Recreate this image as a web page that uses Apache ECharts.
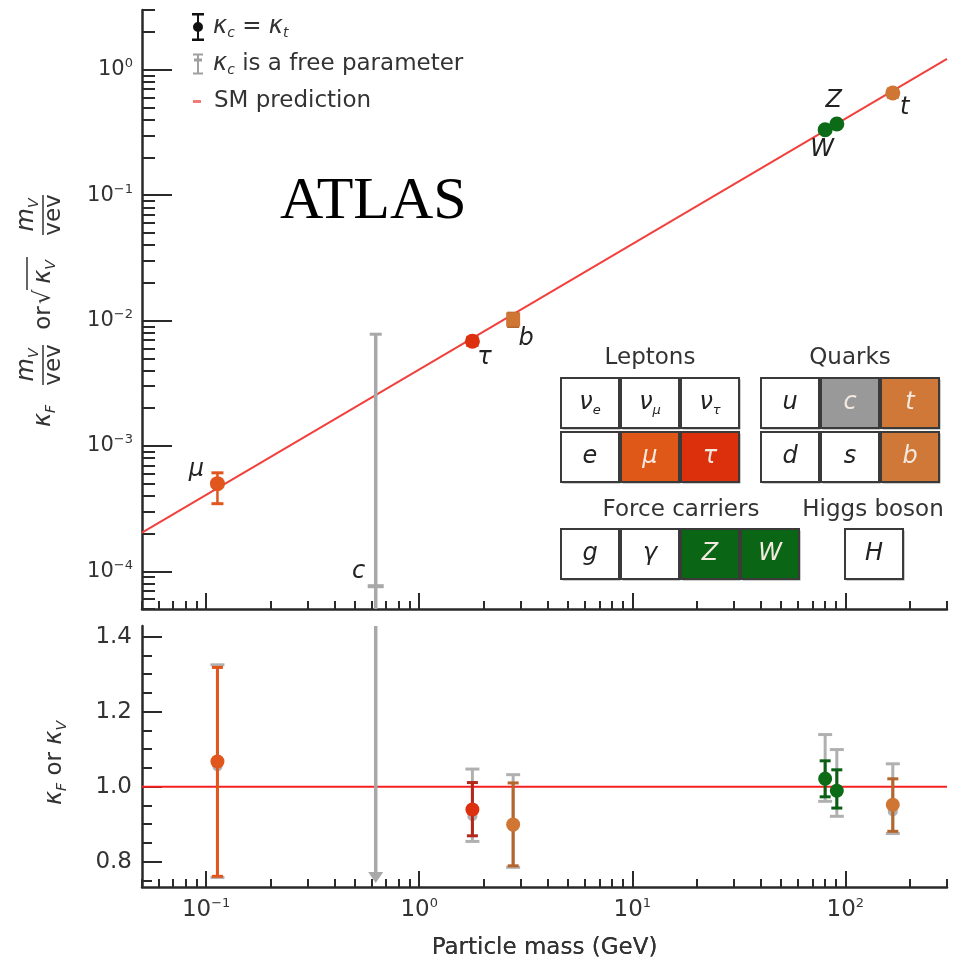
<!DOCTYPE html>
<html>
<head>
<meta charset="utf-8">
<style>
  html, body { margin: 0; padding: 0; background: #fff; }
  #chart { width: 965px; height: 970px; }
</style>
<script src="https://cdn.jsdelivr.net/npm/echarts@6/dist/echarts.min.js"></script>
</head>
<body>
<div id="chart"></div>
<script>
// particles measured with kappa_c = kappa_t
const particles = ['μ', 'τ', 'b', 'W', 'Z', 't'];
const massGeV = [0.113, 1.777, 2.76, 80.4, 91.2, 167];

// upper panel: kappa_F m/vev (fermions) or sqrt(kappa_V) m/vev (bosons)
const reducedCoupling = [5.0e-4, 6.84e-3, 1.02e-2, 0.333, 0.370, 0.653];
const reducedLow = [3.46e-4, 6.33e-3, 8.96e-3, 0.324, 0.357, 0.606];
const reducedHigh = [6.1e-4, 7.35e-3, 1.145e-2, 0.341, 0.380, 0.702];

// lower panel: kappa_F or kappa_V
const kappa = [1.067, 0.939, 0.899, 1.021, 0.989, 0.952];
const kappaLow = [0.761, 0.869, 0.789, 0.973, 0.943, 0.881];
const kappaHigh = [1.318, 1.011, 1.010, 1.069, 1.045, 1.021];

// lower panel: same fit with kappa_c as a free parameter
const freeKappa = [1.054, 0.921, 0.892, 1.028, 0.985, 0.934];
const freeLow = [0.758, 0.854, 0.785, 0.961, 0.921, 0.875];
const freeHigh = [1.325, 1.047, 1.032, 1.139, 1.099, 1.061];

// charm: only a bound
const charmMass = 0.625;
const charmReduced = 7.6e-5;
const charmReducedHigh = 7.78e-3;
const charmKappaLow = 0.743;
const charmKappaHigh = 1.6;

// SM prediction
const smMass = [0.05, 300];
const smReduced = [2.03e-4, 1.22];
const smKappa = [1, 1];

// axis ticks
const massMajorTicks = [0.1, 1, 10, 100];
const massMinorTicks = [0.05, 0.06, 0.07, 0.08, 0.09, 0.2, 0.3, 0.4, 0.5, 0.6, 0.7, 0.8, 0.9,
  2, 3, 4, 5, 6, 7, 8, 9, 20, 30, 40, 50, 60, 70, 80, 90, 200, 300];
const reducedMajorTicks = [1e-4, 1e-3, 1e-2, 1e-1, 1];
const reducedMinorTicks = [5e-5, 6e-5, 7e-5, 8e-5, 9e-5,
  2e-4, 3e-4, 4e-4, 5e-4, 6e-4, 7e-4, 8e-4, 9e-4,
  2e-3, 3e-3, 4e-3, 5e-3, 6e-3, 7e-3, 8e-3, 9e-3,
  2e-2, 3e-2, 4e-2, 5e-2, 6e-2, 7e-2, 8e-2, 9e-2,
  0.2, 0.3, 0.4, 0.5, 0.6, 0.7, 0.8, 0.9, 2, 3];
const kappaMajorTicks = [0.8, 1.0, 1.2, 1.4];
const kappaMinorTicks = [0.75, 0.85, 0.9, 0.95, 1.05, 1.1, 1.15, 1.25, 1.3, 1.35];

const pointColors = ['#e0561c', '#dc300e', '#d07634', '#0b6b16', '#0b6b16', '#d07634'];
const barColors = ['#e0561c', '#b3281a', '#b5662c', '#0b5f14', '#0b5f14', '#b5662c'];
const topSymbols = ['circle', 'circle', 'rect', 'circle', 'circle', 'circle'];
const labelOffsets = [[-21, -14], [12, 17], [13, 19], [-3, 20], [-3, -23], [12, 15]];

const font = 'DejaVu Sans';
const ink = '#333';
const axisColor = '#2a2a2a';
const grey = '#a8a8a8';

const chart = echarts.init(document.getElementById('chart'), null, { renderer: 'canvas' });

function powerRich(size) {
  return {
    b: { fontFamily: font, fontSize: size, color: ink, lineHeight: size + 4 },
    e: { fontFamily: font, fontSize: 13, color: ink, lineHeight: 14, verticalAlign: 'top' },
  };
}

function powerLabel(v) {
  const e = Math.round(Math.log10(v));
  return '{b|10}{e|' + (e < 0 ? '\u2212' + -e : e) + '}';
}

function axisPair(dim, gridIndex, base, major, minor, majorLen, minorLen, label) {
  const line = { lineStyle: { color: axisColor, width: 2.5 } };
  const tickStyle = { color: axisColor, width: 2 };
  const position = dim === 'x' ? 'bottom' : 'left';
  return [
    {
      gridIndex, position, ...base,
      axisLine: line,
      axisTick: { inside: true, length: majorLen, customValues: major, lineStyle: tickStyle },
      axisLabel: label ? { customValues: major, ...label } : { show: false },
      splitLine: { show: false },
    },
    {
      gridIndex, position, ...base,
      axisLine: { show: false },
      axisTick: { inside: true, length: minorLen, customValues: minor, lineStyle: tickStyle },
      axisLabel: { show: false },
      splitLine: { show: false },
    },
  ];
}

const massRange = { type: 'log', min: 0.05, max: 300 };

function errorBars(widths) {
  return function (params, api) {
    const x = api.value(0);
    const lo = api.coord([x, api.value(1)]);
    const hi = api.coord([x, api.value(2)]);
    const color = widths.color || barColors[api.value(3)];
    const cap = widths.cap / 2;
    return {
      type: 'group',
      children: [
        { type: 'line', shape: { x1: lo[0], y1: lo[1], x2: hi[0], y2: hi[1] }, style: { stroke: color, lineWidth: widths.stem } },
        { type: 'line', shape: { x1: hi[0] - cap, y1: hi[1], x2: hi[0] + cap, y2: hi[1] }, style: { stroke: color, lineWidth: 3 } },
        { type: 'line', shape: { x1: lo[0] - cap, y1: lo[1], x2: lo[0] + cap, y2: lo[1] }, style: { stroke: color, lineWidth: 3 } },
      ],
    };
  };
}

function charmTop(params, api) {
  const x = api.value(0);
  const mid = api.coord([x, api.value(1)]);
  const hi = api.coord([x, api.value(2)]);
  const lo = api.coord([x, api.value(1) / 100]);
  return {
    type: 'group',
    children: [
      { type: 'line', shape: { x1: lo[0], y1: lo[1], x2: hi[0], y2: hi[1] }, style: { stroke: grey, lineWidth: 3.5 } },
      { type: 'line', shape: { x1: hi[0] - 6, y1: hi[1], x2: hi[0] + 6, y2: hi[1] }, style: { stroke: grey, lineWidth: 3 } },
      { type: 'line', shape: { x1: mid[0] - 8, y1: mid[1], x2: mid[0] + 8, y2: mid[1] }, style: { stroke: grey, lineWidth: 4 } },
      {
        type: 'text', x: mid[0] - 17, y: mid[1] - 14,
        style: { text: 'c', fill: '#222', font: 'italic 24px "DejaVu Sans"', align: 'center', verticalAlign: 'middle' },
      },
    ],
  };
}

function charmBottom(params, api) {
  const x = api.value(0);
  const lo = api.coord([x, api.value(1)]);
  const hi = api.coord([x, api.value(2)]);
  return {
    type: 'group',
    children: [
      { type: 'line', shape: { x1: lo[0], y1: lo[1] - 8, x2: hi[0], y2: hi[1] }, style: { stroke: grey, lineWidth: 3.5 } },
      { type: 'polygon', shape: { points: [[lo[0] - 7.5, lo[1] - 11], [lo[0] + 7.5, lo[1] - 11], [lo[0], lo[1]]] }, style: { fill: grey } },
    ],
  };
}

const sub = { fontFamily: font, fontStyle: 'italic', fontSize: 14, lineHeight: 12, verticalAlign: 'bottom', color: ink };
const kap = { fontFamily: font, fontStyle: 'italic', fontSize: 24, lineHeight: 26, color: ink };

const legendText = {
  'κc = κt': '{k|κ}{s|c} = {k|κ}{s|t}',
  'κc is a free parameter': '{k|κ}{s|c} is a free parameter',
  'SM prediction': 'SM prediction',
};

function legendBlock(name, icon, color, left, top, w, h) {
  return {
    data: [{ name, icon, itemStyle: { color } }],
    left, top, padding: 0, itemWidth: w, itemHeight: h,
    selectedMode: false,
    formatter: (n) => legendText[n],
    textStyle: { fontFamily: font, fontSize: 23, color: ink, rich: { k: kap, s: sub } },
  };
}

// particle table inset (annotation)
const cellW = 58;
const cellH = 50;
function cell(x, y, fill, text, light) {
  const color = light ? '#f3e9df' : '#222';
  return [
    { type: 'rect', shape: { x: x + 1.5, y: y + 1.5, width: cellW, height: cellH }, style: { fill: '#9a9a9a' } },
    { type: 'rect', shape: { x, y, width: cellW, height: cellH }, style: { fill, stroke: '#3a3a3a', lineWidth: 2 } },
    {
      type: 'text', x: x + cellW / 2, y: y + cellH / 2,
      style: {
        text, fill: color, align: 'center', verticalAlign: 'middle',
        font: 'italic 24px "DejaVu Sans"',
        rich: {
          k: { fill: color, fontFamily: font, fontStyle: 'italic', fontSize: 24, lineHeight: 28 },
          s: { fill: color, fontFamily: font, fontStyle: 'italic', fontSize: 13, lineHeight: 12, verticalAlign: 'bottom' },
        },
      },
    },
  ];
}
function header(x, y, text) {
  return { type: 'text', x, y, style: { text, fill: ink, font: '23px "DejaVu Sans"', align: 'center', verticalAlign: 'middle' } };
}

const inset = [
  header(650, 358, 'Leptons'), header(850, 358, 'Quarks'),
  header(681, 510, 'Force carriers'), header(873, 510, 'Higgs boson'),
  ...cell(561, 378, '#fff', '{k|ν}{s|e}'), ...cell(621, 378, '#fff', '{k|ν}{s|μ}'), ...cell(681, 378, '#fff', '{k|ν}{s|τ}'),
  ...cell(561, 432, '#fff', 'e'), ...cell(621, 432, '#e05818', 'μ', true), ...cell(681, 432, '#dc300c', 'τ', true),
  ...cell(761, 378, '#fff', 'u'), ...cell(821, 378, '#999999', 'c', true), ...cell(881, 378, '#d07838', 't', true),
  ...cell(761, 432, '#fff', 'd'), ...cell(821, 432, '#fff', 's'), ...cell(881, 432, '#d07838', 'b', true),
  ...cell(561, 529, '#fff', 'g'), ...cell(621, 529, '#fff', 'γ'), ...cell(681, 529, '#0a6614', 'Z', true), ...cell(741, 529, '#0a6614', 'W', true),
  ...cell(845, 529, '#fff', 'H'),
];

// rotated title of the upper y axis
function t(x, y, text) {
  return {
    type: 'text', x, y,
    style: {
      text, fill: ink, font: '23px "DejaVu Sans"', align: 'center', verticalAlign: 'middle',
      rich: {
        k: { fill: ink, fontFamily: font, fontStyle: 'italic', fontSize: 24, lineHeight: 28 },
        s: { fill: ink, fontFamily: font, fontStyle: 'italic', fontSize: 14, lineHeight: 12, verticalAlign: 'bottom' },
      },
    },
  };
}
function bar(x1, x2, y) {
  return { type: 'line', shape: { x1, y1: y, x2, y2: y }, style: { stroke: ink, lineWidth: 1.5 } };
}
const yTitleTop = {
  type: 'group', x: 44, y: 310, rotation: Math.PI / 2,
  children: [
    t(-106, 0, '{k|κ}{s|F}'),
    t(-55, -17, '{k|m}{s|V}'), bar(-75, -35, -1), t(-55, 10, 'vev'),
    t(-8, 0, 'or'),
    t(13, 0, '√'), t(38, 0, '{k|κ}{s|V}'), bar(20, 53, -17),
    t(95, -17, '{k|m}{s|V}'), bar(75, 115, -1), t(95, 10, 'vev'),
  ],
};
const yTitleBottom = {
  type: 'group', x: 55, y: 763, rotation: Math.PI / 2,
  children: [t(0, 0, '{k|κ}{s|F} or {k|κ}{s|V}')],
};

const option = {
  animation: false,
  backgroundColor: '#fff',
  grid: [
    { left: 142, top: 10, width: 805, height: 599 },
    { left: 142, top: 626, width: 805, height: 261 },
  ],
  legend: [
    legendBlock('κc = κt', 'path://M0,0H12V2.5H0Z M0,25.5H12V28H0Z M5,0H7V28H5Z M6,9A5,5 0 1,1 6,19A5,5 0 1,1 6,9Z', '#111', 192, 13, 20, 28),
    legendBlock('κc is a free parameter', 'path://M0,0H10V2H0Z M0,19H10V21H0Z M4,0H6V21H4Z M1,5H9V8H1Z', '#a0a0a0', 193, 52, 20, 21),
    legendBlock('SM prediction', 'path://M0,0H8V3H0Z', '#f47a7a', 193, 90, 24, 3),
  ],
  xAxis: [
    ...axisPair('x', 0, massRange, massMajorTicks, massMinorTicks, 16, 8, null),
    ...axisPair('x', 1, {
      ...massRange,
      name: 'Particle mass (GeV)', nameLocation: 'middle', nameGap: 50,
      nameTextStyle: { fontFamily: font, fontSize: 23, color: ink },
    }, massMajorTicks, massMinorTicks, 16, 8, {
      formatter: powerLabel, margin: 10, rich: powerRich(23),
    }),
  ],
  yAxis: [
    ...axisPair('y', 0, { type: 'log', min: 5e-5, max: 3 }, reducedMajorTicks, reducedMinorTicks, 30, 13, {
      formatter: powerLabel, margin: 9, rich: powerRich(21),
    }),
    ...axisPair('y', 1, { type: 'value', min: 0.7325, max: 1.4285 }, kappaMajorTicks, kappaMinorTicks, 20, 10, {
      formatter: (v) => v.toFixed(1), margin: 10, fontFamily: font, fontSize: 23, color: ink,
    }),
  ],
  series: [
    {
      name: 'κc is a free parameter', type: 'custom', xAxisIndex: 0, yAxisIndex: 0, clip: true, z: 3,
      renderItem: charmTop,
      data: [[charmMass, charmReduced, charmReducedHigh]],
    },
    {
      name: 'κc is a free parameter', type: 'custom', xAxisIndex: 2, yAxisIndex: 2, clip: true, z: 3,
      renderItem: charmBottom,
      data: [[charmMass, charmKappaLow, charmKappaHigh]],
    },
    {
      name: 'κc is a free parameter', type: 'custom', xAxisIndex: 2, yAxisIndex: 2, clip: true, z: 2,
      renderItem: errorBars({ stem: 3, cap: 14, color: '#b0b0b0' }),
      data: massGeV.map((m, i) => [m, freeLow[i], freeHigh[i]]),
    },
    {
      name: 'κc is a free parameter', type: 'scatter', xAxisIndex: 2, yAxisIndex: 2, z: 2,
      symbolSize: 10, itemStyle: { color: '#b0b0b0', opacity: 1 },
      data: massGeV.map((m, i) => [m, freeKappa[i]]),
    },
    {
      name: 'SM prediction', type: 'line', xAxisIndex: 0, yAxisIndex: 0, z: 2,
      symbol: 'none', lineStyle: { color: '#f2403c', width: 2 },
      data: smMass.map((m, i) => [m, smReduced[i]]),
    },
    {
      name: 'SM prediction', type: 'line', xAxisIndex: 2, yAxisIndex: 2, z: 2,
      symbol: 'none', lineStyle: { color: '#f52020', width: 2 },
      data: smMass.map((m, i) => [m, smKappa[i]]),
    },
    {
      name: 'κc = κt', type: 'custom', xAxisIndex: 0, yAxisIndex: 0, clip: true, z: 4,
      renderItem: errorBars({ stem: 2.5, cap: 12 }),
      data: massGeV.map((m, i) => [m, reducedLow[i], reducedHigh[i], i]),
    },
    {
      name: 'κc = κt', type: 'custom', xAxisIndex: 2, yAxisIndex: 2, clip: true, z: 4,
      renderItem: errorBars({ stem: 3, cap: 11 }),
      data: massGeV.map((m, i) => [m, kappaLow[i], kappaHigh[i], i]),
    },
    {
      name: 'κc = κt', type: 'scatter', xAxisIndex: 0, yAxisIndex: 0, z: 5,
      data: massGeV.map((m, i) => ({
        value: [m, reducedCoupling[i]],
        symbol: topSymbols[i],
        symbolSize: topSymbols[i] === 'rect' ? 14 : 15,
        itemStyle: { color: pointColors[i], opacity: 1 },
        label: {
          show: true, position: 'inside', offset: labelOffsets[i],
          formatter: particles[i], color: '#222',
          fontFamily: font, fontStyle: 'italic', fontSize: 24,
        },
      })),
    },
    {
      name: 'κc = κt', type: 'scatter', xAxisIndex: 2, yAxisIndex: 2, z: 5, symbolSize: 14,
      data: massGeV.map((m, i) => ({ value: [m, kappa[i]], itemStyle: { color: pointColors[i], opacity: 1 } })),
    },
  ],
  graphic: [
    {
      type: 'text', x: 280, y: 202,
      style: { text: 'ATLAS', fill: '#000', font: '60px "Liberation Serif"', align: 'left', verticalAlign: 'middle' },
    },
    yTitleTop,
    yTitleBottom,
    { type: 'group', children: inset },
  ],
};

chart.setOption(option);
</script>
</body>
</html>
